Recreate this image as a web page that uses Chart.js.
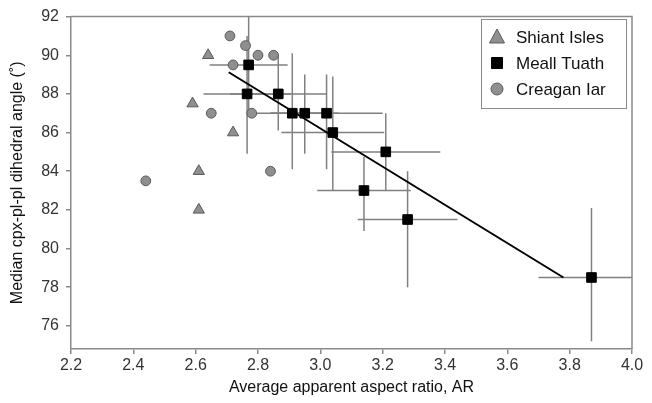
<!DOCTYPE html>
<html>
<head>
<meta charset="utf-8">
<script src="https://cdn.jsdelivr.net/npm/chart.js@4"></script>
<style>
  html, body { margin: 0; padding: 0; background: #fff; }
  #wrap { width: 652px; height: 403px; }
</style>
</head>
<body>
<div id="wrap"><canvas id="grafico"></canvas></div>
<script>
// Shiant Isles (triângulos)
const shiantX = [2.64, 2.59, 2.72, 2.61, 2.61];
const shiantY = [90, 87.5, 86, 84, 82];

// Creagan Iar (círculos)
const creaganX = [2.71, 2.76, 2.72, 2.80, 2.85, 2.65, 2.78, 2.84, 2.44];
const creaganY = [91, 90.5, 89.5, 90, 90, 87, 87, 84, 83.5];

// Meall Tuath (quadrados com barras de erro)
const meallX = [2.77, 2.765, 2.865, 2.91, 2.95, 3.02, 3.04, 3.21, 3.14, 3.28, 3.87];
const meallY = [89.5, 88, 88, 87, 87, 87, 86, 85, 83, 81.5, 78.5];
const meallXErr = [0.125, 0.14, 0.155, 0.13, 0.11, 0.18, 0.165, 0.175, 0.15, 0.16, 0.17];
const meallYErrLow = [2.5, 3.1, 1.9, 2.9, 2.1, 2.9, 3.0, 2.0, 2.1, 3.5, 3.3];
const meallYErrHigh = [2.7, 3.0, 2.0, 3.1, 2.0, 2.0, 2.9, 2.0, 1.75, 2.5, 3.6];

// Reta de regressão (extremos)
const retaX = [2.706, 3.78];
const retaY = [89.12, 78.5];

const xTicks = [2.2, 2.4, 2.6, 2.8, 3.0, 3.2, 3.4, 3.6, 3.8, 4.0];
const yTicks = [76, 78, 80, 82, 84, 86, 88, 90, 92];

const legendaItens = [
    { texto: "Shiant Isles", estilo: "triangle", cor: "#8f8f8f", borda: "#5a5a5a" },
    { texto: "Meall Tuath", estilo: "rect", cor: "#000000", borda: "#000000" },
    { texto: "Creagan Iar", estilo: "circle", cor: "#8f8f8f", borda: "#5a5a5a" }
];

const fonte = "'Liberation Sans', Arial, sans-serif";

function pontos(xs, ys) {
    return xs.map((x, i) => ({ x: x, y: ys[i] }));
}

// Desenha as barras de erro usando as escalas do gráfico
const barrasErro = {
    id: "barrasErro",
    beforeDatasetsDraw(chart) {
        const ctx = chart.ctx;
        const xs = chart.scales.x;
        const ys = chart.scales.y;
        const area = chart.chartArea;
        ctx.save();
        ctx.beginPath();
        ctx.rect(area.left, area.top, area.right - area.left, area.bottom - area.top);
        ctx.clip();
        ctx.strokeStyle = "#808080";
        ctx.lineWidth = 1.5;
        meallX.forEach((x, i) => {
            const y = meallY[i];
            const px = xs.getPixelForValue(x);
            const py = ys.getPixelForValue(y);
            ctx.beginPath();
            ctx.moveTo(xs.getPixelForValue(x - meallXErr[i]), py);
            ctx.lineTo(xs.getPixelForValue(x + meallXErr[i]), py);
            ctx.moveTo(px, ys.getPixelForValue(y - meallYErrLow[i]));
            ctx.lineTo(px, ys.getPixelForValue(y + meallYErrHigh[i]));
            ctx.stroke();
        });
        ctx.restore();
    },
    afterDraw(chart) {
        const ctx = chart.ctx;
        const area = chart.chartArea;
        ctx.save();
        // moldura superior e direita
        ctx.strokeStyle = "#8a8a8a";
        ctx.lineWidth = 1.5;
        ctx.beginPath();
        ctx.moveTo(area.left, area.top);
        ctx.lineTo(area.right, area.top);
        ctx.lineTo(area.right, area.bottom);
        ctx.stroke();

        // legenda
        const lx = 481, ly = 19, lw = 145, lh = 89;
        ctx.fillStyle = "#fff";
        ctx.fillRect(lx, ly, lw, lh);
        ctx.strokeStyle = "#8a8a8a";
        ctx.lineWidth = 1;
        ctx.strokeRect(lx + 0.5, ly + 0.5, lw, lh);
        ctx.font = "17px " + fonte;
        ctx.textBaseline = "middle";
        legendaItens.forEach((item, i) => {
            const cy = 37 + i * 26;
            const cx = 497;
            ctx.fillStyle = item.cor;
            ctx.strokeStyle = item.borda;
            ctx.lineWidth = 1;
            ctx.beginPath();
            if (item.estilo === "triangle") {
                ctx.moveTo(cx, cy - 8);
                ctx.lineTo(cx + 7.5, cy + 6);
                ctx.lineTo(cx - 7.5, cy + 6);
                ctx.closePath();
            } else if (item.estilo === "rect") {
                ctx.rect(cx - 5.5, cy - 5.5, 11, 11);
            } else {
                ctx.arc(cx, cy, 6, 0, Math.PI * 2);
            }
            ctx.fill();
            ctx.stroke();
            ctx.fillStyle = "#111";
            ctx.fillText(item.texto, 516, cy + 1);
        });
        ctx.restore();
    }
};

new Chart(document.getElementById("grafico"), {
    type: "scatter",
    data: {
        datasets: [
            {
                label: "Meall Tuath",
                data: pontos(meallX, meallY),
                pointStyle: "rect",
                pointRadius: 6.8,
                backgroundColor: "#000",
                borderColor: "#000",
                borderWidth: 1,
                order: 0
            },
            {
                label: "Shiant Isles",
                data: pontos(shiantX, shiantY),
                pointStyle: "triangle",
                pointRadius: 6.5,
                backgroundColor: "#8f8f8f",
                borderColor: "#5a5a5a",
                borderWidth: 1,
                order: 1
            },
            {
                label: "Creagan Iar",
                data: pontos(creaganX, creaganY),
                pointStyle: "circle",
                pointRadius: 4.9,
                backgroundColor: "#8f8f8f",
                borderColor: "#5a5a5a",
                borderWidth: 1,
                order: 2
            },
            {
                label: "Regressão",
                type: "line",
                data: pontos(retaX, retaY),
                borderColor: "#000",
                borderWidth: 2,
                pointRadius: 0,
                fill: false,
                order: 3
            }
        ]
    },
    options: {
        responsive: true,
        maintainAspectRatio: false,
        animation: false,
        layout: { padding: { top: 14, right: 20, left: 0, bottom: 0 } },
        plugins: {
            legend: { display: false },
            tooltip: { enabled: false }
        },
        scales: {
            x: {
                type: "linear",
                min: 2.2,
                max: 4.0,
                afterBuildTicks: s => { s.ticks = xTicks.map(v => ({ value: v })); },
                afterFit: s => { s.height = 54; },
                grid: { drawOnChartArea: false, drawTicks: true, tickLength: 5, color: "#8a8a8a", lineWidth: 1.5 },
                border: { color: "#8a8a8a", width: 1.5 },
                ticks: {
                    padding: 2,
                    color: "#333",
                    font: { family: fonte, size: 16 },
                    maxRotation: 0,
                    callback: v => Number(v).toFixed(1)
                },
                title: {
                    display: true,
                    text: "Average apparent aspect ratio, AR",
                    color: "#111",
                    font: { family: fonte, size: 16 },
                    padding: { top: 6, bottom: 6 }
                }
            },
            y: {
                type: "linear",
                min: 74.8,
                max: 92,
                afterBuildTicks: s => { s.ticks = yTicks.map(v => ({ value: v })); },
                afterFit: s => { s.width = 71; },
                grid: { drawOnChartArea: false, drawTicks: true, tickLength: 5, color: "#8a8a8a", lineWidth: 1.5 },
                border: { color: "#8a8a8a", width: 1.5 },
                ticks: {
                    padding: 7,
                    color: "#333",
                    font: { family: fonte, size: 16 },
                    callback: v => String(v)
                },
                title: {
                    display: true,
                    text: "Median cpx-pl-pl dihedral angle (˚)",
                    color: "#111",
                    font: { family: fonte, size: 16 },
                    padding: { top: 8, bottom: 8 }
                }
            }
        }
    },
    plugins: [barrasErro]
});
</script>
</body>
</html>
